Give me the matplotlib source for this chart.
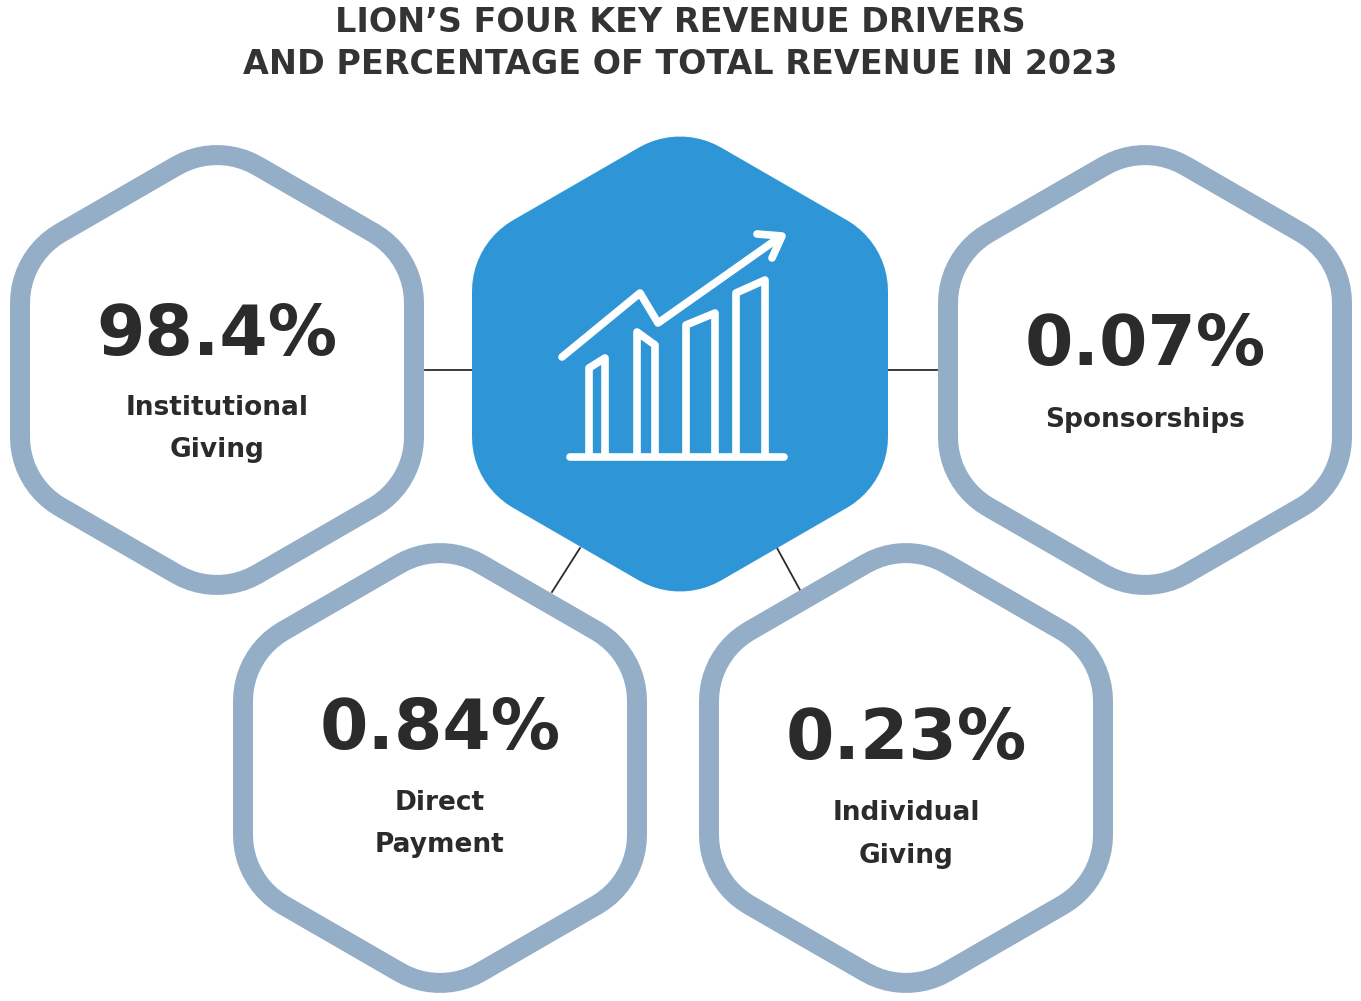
import numpy as np
import matplotlib
matplotlib.use("Agg")
import matplotlib.pyplot as plt
from matplotlib.patches import Polygon

title_lines = ["LION’S FOUR KEY REVENUE DRIVERS", "AND PERCENTAGE OF TOTAL REVENUE IN 2023"]
categories = ["Institutional\nGiving", "Sponsorships", "Direct\nPayment", "Individual\nGiving"]
percent_labels = ["98.4%", "0.07%", "0.84%", "0.23%"]

W, H = 1361, 1001
fig = plt.figure(figsize=(W/100, H/100), dpi=100)
ax = fig.add_axes([0, 0, 1, 1])
ax.set_xlim(0, W); ax.set_ylim(H, 0); ax.axis("off")

OUT = "#93AEC6"; BLUE = "#2E96D6"; DARK = "#2B2B2B"

def rounded_hex(cx, cy, a=116, r=81, n=12):
    R = a * 2 / np.sqrt(3)
    pts = []
    for k in range(6):
        ang = np.deg2rad(90 + 60 * k)
        vx, vy = cx + R * np.cos(ang), cy - R * np.sin(ang)
        for t in np.linspace(ang - np.pi/6, ang + np.pi/6, n):
            pts.append((vx + r * np.cos(t), vy - r * np.sin(t)))
    return np.array(pts)

centers = [(217, 370), (1145, 370), (440, 768), (906, 768)]
num_y = [335, 345, 730, 740]
lab_y = [[408, 450], [420], [803, 845], [813, 856]]

# connectors
for (x0, y0, x1, y1) in [(425, 370, 475, 370), (886, 370, 937, 370), (580, 548, 552, 592), (777, 548, 800, 590)]:
    ax.plot([x0, x1], [y0, y1], color=DARK, lw=1.3, zorder=1)

for (cx, cy) in centers:
    ax.add_patch(Polygon(rounded_hex(cx, cy), closed=True, facecolor="white", edgecolor=OUT, lw=14.4, zorder=2))

ax.add_patch(Polygon(rounded_hex(680, 364, a=126, r=82), closed=True, facecolor=BLUE, edgecolor="none", zorder=2))

# icon
lw = 5.5
kw = dict(color="white", lw=lw, solid_capstyle="round", solid_joinstyle="round", zorder=3)
ax.plot([570, 784], [457, 457], **kw)
bars = [(589, 605, 368, 358), (637, 655, 332, 345), (686, 715, 325, 313), (736, 765, 293, 280)]
for x0, x1, t0, t1 in bars:
    ax.plot([x0, x0, x1, x1], [455, t0, t1, 455], **kw)
ax.plot([562, 640, 658, 780], [357, 293, 323, 237], **kw)
ax.plot([757, 782, 772], [234, 236, 258], **kw)

for (cx, cy), p, c, ny, ly in zip(centers, percent_labels, categories, num_y, lab_y):
    ax.text(cx, ny, p, ha="center", va="center", fontsize=50, fontweight="bold", color=DARK, zorder=4)
    for line, y in zip(c.split("\n"), ly):
        ax.text(cx, y, line, ha="center", va="center", fontsize=19, fontweight="bold", color=DARK, zorder=4)

for line, y in zip(title_lines, [22, 64]):
    ax.text(W/2, y, "\u200a".join(line) if False else line, ha="center", va="center", fontsize=24,
            fontweight="bold", color="#333333")

fig.savefig("out.png", dpi=100)
